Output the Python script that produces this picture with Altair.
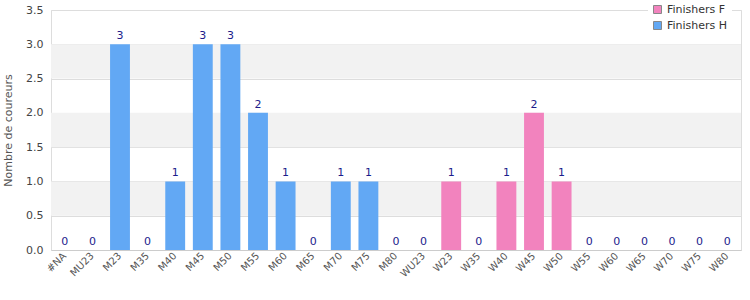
import altair as alt
import pandas as pd

categories = ["#NA", "MU23", "M23", "M35", "M40", "M45", "M50", "M55", "M60", "M65",
              "M70", "M75", "M80", "WU23", "W23", "W35", "W40", "W45", "W50", "W55",
              "W60", "W65", "W70", "W75", "W80"]
values = [0, 0, 3, 0, 1, 3, 3, 2, 1, 0, 1, 1, 0, 0, 1, 0, 1, 2, 1, 0, 0, 0, 0, 0, 0]
series = ["Finishers H"] * 13 + ["Finishers F"] * 12
series_names = ["Finishers F", "Finishers H"]
series_colors = ["#f283be", "#62a8f4"]
y_ticks = [0, 0.5, 1, 1.5, 2, 2.5, 3, 3.5]
band_from = [0.5, 1.5, 2.5]
band_to = [1.0, 2.0, 3.0]

df = pd.DataFrame({"cat": categories, "val": values, "serie": series})
bands = pd.DataFrame({"y0": band_from, "y1": band_to})

W, H = 690, 240
yscale = alt.Scale(domain=[0, 3.5], nice=False)
xscale = alt.Scale(domain=categories, paddingInner=0.28, paddingOuter=0.14)

x_axis = alt.Axis(labelAngle=-45, labelAlign="right", labelBaseline="middle",
                  ticks=False, labelFontSize=10, labelColor="#555", labelFontWeight="normal",
                  domainColor="#cccccc", labelPadding=4, labelOverlap=False)
y_axis = alt.Axis(values=y_ticks, format=".1f", ticks=False, domain=False,
                  gridColor="#dddddd", labelFontSize=11, labelColor="#444",
                  labelFontWeight="normal", labelPadding=8, labelOverlap=False,
                  titleFontSize=11, titleColor="#555", titleFontWeight="normal",
                  titlePadding=12)
ytitle = "Nombre de coureurs"

band_layer = alt.Chart(bands).mark_rect(color="#f2f2f2").encode(
    y=alt.Y("y0:Q", scale=yscale, axis=y_axis, title=ytitle),
    y2="y1:Q",
    x=alt.value(0),
    x2=alt.value(W),
)

bars = alt.Chart(df).mark_bar().encode(
    x=alt.X("cat:N", scale=xscale, sort=categories, title=None, axis=x_axis),
    y=alt.Y("val:Q", scale=yscale, stack=None, title=ytitle, axis=y_axis),
    color=alt.Color("serie:N", scale=alt.Scale(domain=series_names, range=series_colors),
                    legend=alt.Legend(title=None, orient="none", legendX=597, legendY=-10,
                                      symbolType="square", symbolSize=64,
                                      symbolStrokeColor="#888888", symbolStrokeWidth=1,
                                      labelFontSize=11, labelColor="#333",
                                      fillColor="white", padding=4, rowPadding=3,
                                      symbolOpacity=1)),
)

labels = alt.Chart(df).mark_text(baseline="bottom", dy=-3, fontSize=11, color="#1c1c8c").encode(
    x=alt.X("cat:N", scale=xscale, sort=categories, title=None, axis=x_axis),
    y=alt.Y("val:Q", scale=yscale, title=ytitle, axis=y_axis),
    text="val:Q",
)

chart = alt.layer(band_layer, bars, labels).properties(
    width=W, height=H,
    autosize=alt.AutoSizeParams(type="none"),
    padding={"left": 51, "top": 10, "right": 9, "bottom": 50},
).configure(font="DejaVu Sans").configure_view(stroke="#dddddd")

chart.save("out.html", embed_options={"renderer": "svg", "actions": False})
